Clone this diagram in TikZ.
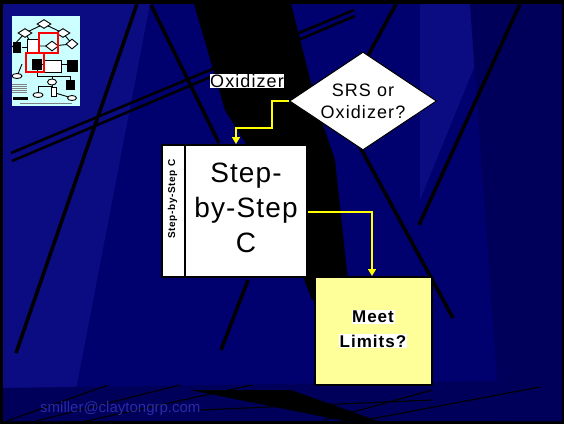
\documentclass[tikz,border=0pt]{standalone}
\usepackage{fontspec}
\setmainfont{Liberation Sans}
\newfontfamily\spaced[LetterSpace=6]{Liberation Sans}
\newfontfamily\spacedS[LetterSpace=4]{Liberation Sans}
\usetikzlibrary{shapes.geometric,arrows.meta}
\definecolor{navy}{HTML}{00006E}
\definecolor{navyA}{HTML}{0B0B82}
\definecolor{navyB}{HTML}{00005A}
\definecolor{flowyellow}{HTML}{FFFF00}
\definecolor{paleyellow}{HTML}{FFFF99}
\definecolor{thumbcyan}{HTML}{CCFFFF}
\definecolor{mailblue}{HTML}{2A2AA6}
\begin{document}
\begin{tikzpicture}[x=1pt,y=-1pt,
  bgline/.style={line width=3.5pt,black},
  thinline/.style={line width=1.1pt,black},
  flowarrow/.style={draw=flowyellow,line width=1.6pt,-{Triangle[width=8pt,length=7pt]}},
  boxframe/.style={draw=black,line width=2pt,inner sep=0pt},
  mini/.style={draw=black,line width=0.9pt,fill=white,inner sep=0pt},
  minil/.style={black,line width=0.9pt},
  hl/.style={fill=white,text=black,inner sep=0.6pt}]
\useasboundingbox (0,0) rectangle (564,424);
% background
\fill[black] (0,0) rectangle (564,424);
\fill[navy] (3,4) rectangle (562,421);
\fill[navyA] (3,4) -- (150,4) -- (70,421) -- (3,421) -- cycle;
\fill[navyA] (420,4) -- (500,4) -- (420,200) -- cycle;
\fill[navyB] (470,4) -- (562,4) -- (562,421) -- (500,421) -- cycle;
\fill[navyB] (3,388) -- (562,380) -- (562,421) -- (3,421) -- cycle;
% black band
\fill[black] (194,4) -- (291,4) -- (318,110) -- (335,160) -- (350,300) -- (312,300) -- (262,170) -- (225,110) -- cycle;
\fill[black] (190,390) -- (291,390) -- (378,421) -- (345,421) -- cycle;
% background lines
\draw[bgline] (137,4) -- (16,353);
\draw[bgline] (151,5) -- (219,143);
\draw[bgline] (248,280) -- (221,350);
\draw[line width=2.5pt,black] (11,153) -- (354,10);
\draw[line width=2.5pt,black] (12,161) -- (355,16);
\draw[bgline] (396,4) -- (363,65);
\draw[bgline] (520,4) -- (419,225);
\draw[bgline] (360,147) -- (453,318);
\draw[thinline] (7,421) -- (108,385);
\draw[thinline] (36,421) -- (180,385);
\draw[thinline] (86,421) -- (252,385);
\draw[thinline] (324,420) -- (432,390);
\draw[thinline] (360,421) -- (540,387);
\draw[thinline] (200,410) -- (432,400);
% thumbnail
\fill[thumbcyan] (12,16) rectangle (80,106);
\draw[minil] (44,24) -- (25,33) -- (12,47);
\draw[minil] (44,24) -- (63,33) -- (72,44);
\draw[minil] (25,33) -- (33,46) -- (52,46) -- (72,44);
\draw[minil] (22,47) -- (28,47);
\draw[minil] (37,64) -- (72,64);
\draw[minil] (22,64) -- (18,74);
\draw[minil] (37,70) -- (37,76) -- (70,76) -- (70,85);
\draw[minil] (52,76) -- (52,92);
\draw[minil] (38,95) -- (38,86) -- (52,86);
\draw[minil] (52,92) -- (72,98);
\node[mini,diamond,minimum width=14pt,minimum height=9pt] (t1) at (44,24) {};
\node[mini,diamond,minimum width=14pt,minimum height=9pt] (t2) at (25,33) {};
\node[mini,diamond,minimum width=14pt,minimum height=9pt] (t3) at (63,33) {};
\node[mini,diamond,minimum width=13pt,minimum height=10pt] (t4) at (52,46) {};
\node[mini,diamond,minimum width=12pt,minimum height=10pt] (t5) at (72,44) {};
\node[fill=black,minimum width=8pt,minimum height=11pt,inner sep=0pt] (t6) at (17,47) {};
\node[mini,minimum width=11pt,minimum height=13pt] (t7) at (33,46) {};
\node[fill=black,minimum width=10pt,minimum height=11pt,inner sep=0pt] (t8) at (37,64) {};
\node[mini,minimum width=17pt,minimum height=12pt] (t9) at (53,66) {};
\node[fill=black,minimum width=11pt,minimum height=12pt,inner sep=0pt] (t10) at (72,66) {};
\node[mini,ellipse,minimum width=10pt,minimum height=5pt] (t11) at (17,76) {};
\node[mini,ellipse,minimum width=9pt,minimum height=6pt] (t12) at (52,82) {};
\node[fill=black,minimum width=9pt,minimum height=10pt,inner sep=0pt] (t13) at (70,85) {};
\node[mini,minimum width=5pt,minimum height=9pt] (t14) at (54,92) {};
\node[mini,ellipse,minimum width=10pt,minimum height=5pt] (t15) at (38,95) {};
\node[mini,ellipse,minimum width=9pt,minimum height=5pt] (t16) at (72,98) {};
\node[fill=black,minimum width=15pt,minimum height=3pt,inner sep=0pt] (t17) at (20,98) {};
\foreach \yy in {84,86,88,90,92} {\draw[gray,line width=0.5pt] (12,\yy) -- (27,\yy);}
\draw[gray,line width=0.4pt] (20,103) -- (72,103);
\draw[red,line width=1.4pt] (39,33) rectangle (58,53);
\draw[red,line width=1.4pt] (26,53) rectangle (44,72);
% flowchart
\node[draw=black,line width=1pt,fill=white,shape=diamond,aspect=1.5,inner sep=0pt,
  minimum width=147pt,minimum height=98pt,align=center,
  font=\spaced\fontsize{18}{22}\selectfont] (srs) at (363,101) {SRS or\\Oxidizer?};
\node[hl,font=\spaced\fontsize{18}{20}\selectfont] (oxl) at (247,81) {Oxidizer};
\node[boxframe,fill=white,minimum width=145pt,minimum height=132pt] (sbs) at (234.5,211) {};
\coordinate (divtop) at (185,145);
\coordinate (divbot) at (185,277);
\draw[black,line width=2pt] (divtop) -- (divbot);
\node[align=center,font=\spacedS\fontsize{28}{35}\selectfont] (sbst) at (246,208) {Step-\\by-Step\\C};
\node[rotate=90,font=\spaced\bfseries\fontsize{10}{11}\selectfont] (sbss) at (172.5,199) {Step-by-Step C};
\node[boxframe,fill=paleyellow,minimum width=117pt,minimum height=108pt] (ml) at (373.5,331) {};
\node[hl,font=\spaced\bfseries\fontsize{17}{19}\selectfont] (mlt1) at (373,317) {Meet};
\node[hl,font=\spaced\bfseries\fontsize{17}{19}\selectfont] (mlt2) at (373,341) {Limits?};
\coordinate (a1) at (272,101);
\coordinate (a2) at (272,128);
\coordinate (a3) at (236,128);
\draw[flowarrow] (srs.west) -- (a1) -- (a2) -- (a3) -- (a3 |- sbs.north);
\coordinate (b1) at (372,212);
\draw[flowarrow] (sbs.east |- b1) -- (b1) -- (b1 |- ml.north);
% footer
\node[text=mailblue,font=\fontsize{15}{17}\selectfont,anchor=west,inner sep=0pt] (mail) at (40,409) {smiller@claytongrp.com};
\end{tikzpicture}
\end{document}
